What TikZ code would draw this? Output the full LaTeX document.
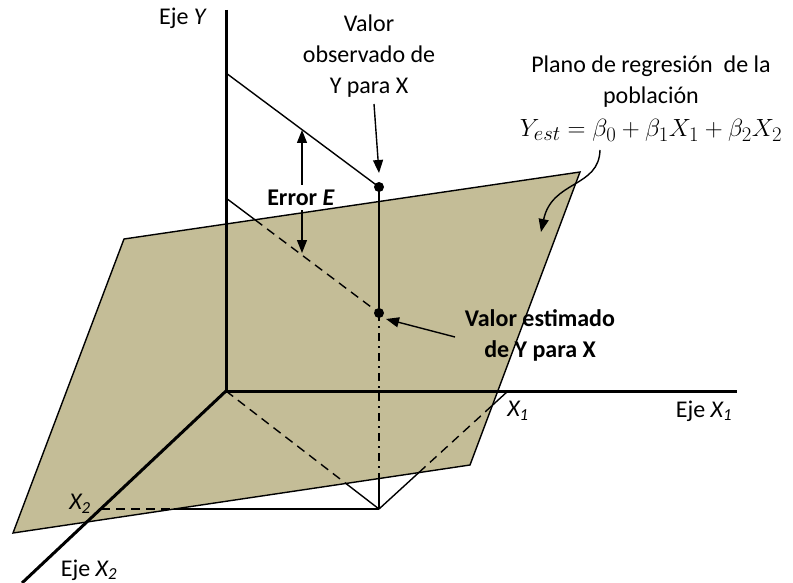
\documentclass[tikz,border=0pt]{standalone}
\usepackage{fontspec}
\setmainfont{Carlito}
\usetikzlibrary{arrows.meta,calc}
\definecolor{planefill}{RGB}{196,189,151}
\begin{document}
\begin{tikzpicture}[x=1pt,y=-1pt,
  axisline/.style={line width=3pt},
  thinline/.style={line width=1.4pt},
  dashline/.style={line width=1.4pt, dash pattern=on 9pt off 6pt},
  dashdotline/.style={line width=1.4pt, dash pattern=on 8pt off 5pt on 2pt off 5pt},
  arr/.style={line width=1.4pt, -{Triangle[length=13pt,width=10pt]}},
  lbl/.style={font=\fontsize{24}{31}\selectfont, align=center, inner sep=0pt},
  dotnode/.style={circle, fill=black, inner sep=0pt, minimum size=10pt}]
\useasboundingbox (0,0) rectangle (793,583);
% coordinates
\coordinate (O) at (226,391);
\coordinate (Ytop) at (226,10);
\coordinate (X1end) at (737,391);
\coordinate (X2end) at (22,583);
\coordinate (P1) at (124,239);
\coordinate (P2) at (580,172);
\coordinate (P3) at (470,465);
\coordinate (P4) at (13,533);
\coordinate (YA) at (226,73);
\coordinate (YB) at (226,198);
\coordinate (B) at (379,509);
\coordinate (X1pt) at (508,391);
\coordinate (X2pt) at (101,509);
% plane
\filldraw[fill=planefill, draw=black, thinline] (P1) -- (P2) -- (P3) -- (P4) -- cycle;
% axes
\draw[axisline] (Ytop) -- (O);
\draw[axisline] (O) -- (X1end);
\draw[axisline] (O) -- (X2end);
% points
\node[dotnode] (Obs) at (379,187) {};
\node[dotnode] (Est) at (379,313) {};
% upper line
\draw[thinline] (YA) -- (Obs.center);
% lower line
\coordinate (C1) at ($(YB)!0.19!(Est.center)$);
\draw[thinline] (YB) -- (C1);
\draw[dashline] (C1) -- (Est.center);
% vertical
\draw[thinline] (Obs.center) -- (Est.center);
\coordinate (C2) at (379,478);
\draw[dashdotline] (Est.center) -- (C2);
\draw[thinline] (C2) -- (B);
% origin to base
\coordinate (C3) at ($(O)!0.784!(B)$);
\draw[dashline] (O) -- (C3);
\draw[thinline] (C3) -- (B);
% base to X1
\coordinate (C4) at ($(B)!0.309!(X1pt)$);
\coordinate (C5) at ($(B)!0.879!(X1pt)$);
\draw[thinline] (B) -- (C4);
\draw[dashline] (C4) -- (C5);
\draw[thinline] (C5) -- (X1pt);
% base to X2
\coordinate (C6) at ($(X2pt)!0.264!(B)$);
\draw[dashline] (X2pt) -- (C6);
\draw[thinline] (C6) -- (B);
% labels
\node[lbl] (ejeY) at (183,18) {Eje \textit{Y}};
\node[lbl] (x1lbl) at (518,411) {\textit{X\textsubscript{1}}};
\node[lbl] (ejeX1) at (704,411) {Eje \textit{X\textsubscript{1}}};
\node[lbl] (x2lbl) at (80,504) {\textit{X\textsubscript{2}}};
\node[lbl] (ejeX2) at (89,570) {Eje \textit{X\textsubscript{2}}};
% error
\node[lbl, font=\fontsize{24}{31}\selectfont\bfseries] (err) at (301,198) {Error \textit{E}};
\coordinate (ErrUp) at (302,130);
\coordinate (ErrDown) at (302,253);
\draw[arr] (err.north -| ErrUp) ++(0,-5) -- (ErrUp);
\draw[arr] (err.south -| ErrDown) ++(0,4) -- (ErrDown);
% observed
\node[lbl] (obslbl) at (369,56) {Valor\\observado de\\Y para X};
\coordinate (ObsTip) at (379,173);
\draw[arr] (374,104) -- (ObsTip);
% estimated
\node[lbl, font=\fontsize{24}{31}\selectfont\bfseries] (estlbl) at (540,335) {Valor estimado\\de Y para X};
\coordinate (EstTip) at (386,319);
\draw[arr] (455,337) -- (EstTip);
% plane label
\node[lbl] (planelbl) at (651,82) {Plano de regresión\ \ de la\\población};
\node[inner sep=0pt, font=\fontsize{28}{32}\selectfont] (formula) at (651,130) {$Y_{est}=\beta_0+\beta_1X_1+\beta_2X_2$};
\coordinate (PlaneTip) at (541,232);
\draw[arr] (600,150) .. controls (599,188) and (552,180) .. (PlaneTip);
\end{tikzpicture}
\end{document}
